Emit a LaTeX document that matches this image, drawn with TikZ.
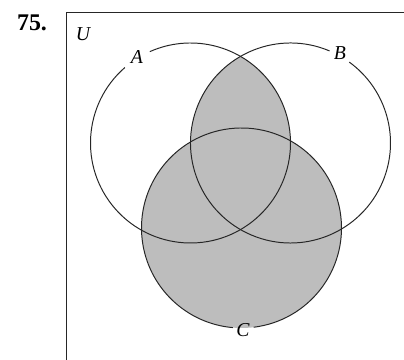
\documentclass[tikz,border=0pt]{standalone}
\usepackage{fontspec}
\setmainfont{Liberation Serif}
\usepackage{tikz}

\begin{document}
\begin{tikzpicture}[
    x=0.025cm, y=0.025cm,
    setline/.style={line width=0.7pt, black!85},
    shaded/.style={fill=black!26},
    setlabel/.style={font=\fontsize{14}{14}\selectfont\itshape, inner sep=1pt}
  ]
    \useasboundingbox (0,0) rectangle (404,360);
    % centres of the three sets
    \coordinate (cA) at (190.5,217);
    \coordinate (cB) at (290.5,217);
    \coordinate (cC) at (241.5,132);
    % shaded region: (A and B) or C
    \fill[shaded] (cC) circle[radius=100];
    \begin{scope}
      \clip (cA) circle[radius=100];
      \fill[shaded] (cB) circle[radius=100];
    \end{scope}
    % universe frame
    \coordinate (ubl) at (66,0);
    \coordinate (utl) at (66,347);
    \coordinate (utr) at (404,347);
    \draw[setline] (ubl) -- (utl) -- (utr);
    % circles, with gaps for the labels
    \draw[setline] ([shift={(131:100)}]cA) arc[start angle=131, end angle=474, radius=100];
    \draw[setline] ([shift={(67:100)}]cB) arc[start angle=67, end angle=414, radius=100];
    \draw[setline] ([shift={(277:100)}]cC) arc[start angle=277, end angle=625, radius=100];
    % labels
    \node[font=\fontsize{17}{17}\selectfont\bfseries] (num) at (32,337) {75.};
    \node[setlabel] (lU) at (83,326) {U};
    \node[setlabel] (lA) at (137,303) {A};
    \node[setlabel] (lB) at (340,307) {B};
    \node[setlabel] (lC) at (243,30) {C};
  \end{tikzpicture}
\end{document}
